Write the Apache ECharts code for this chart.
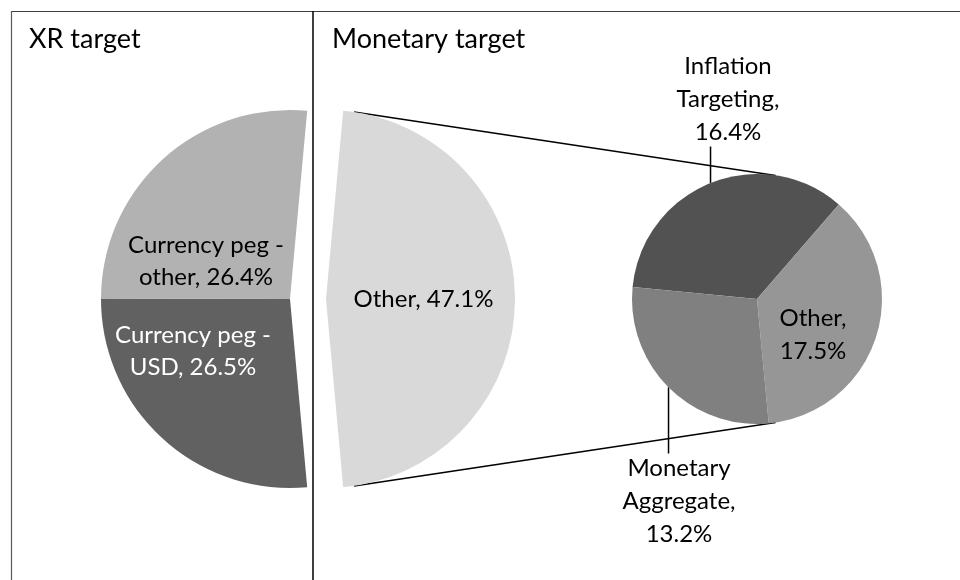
<!DOCTYPE html>
<html>
<head>
<meta charset="utf-8">
<script src="https://cdn.jsdelivr.net/npm/echarts@6/dist/echarts.min.js"></script>
<style>
html, body { margin: 0; padding: 0; background: #fff; }
#chart { width: 960px; height: 580px; }
</style>
</head>
<body>
<div id="chart"></div>
<script>
// first pie: exchange-rate targets and the share that is broken out
var mainNames = ['Other', 'Currency peg -\nUSD', 'Currency peg -\nother'];
var mainValues = [47.1, 26.5, 26.4];
// second pie: what the "Other" slice is made of
var subNames = ['Inflation\nTargeting', 'Other', 'Monetary\nAggregate'];
var subValues = [16.4, 17.5, 13.2];
var panelTitles = ['XR target', 'Monetary target'];

var mainColors = ['#d9d9d9', '#616161', '#b2b2b2'];
var subColors = ['#525252', '#969696', '#808080'];
var mainLabelColors = ['#000', '#fff', '#000'];

var FONT = 'Lato';
var cy = 299;
var main = { cx: 290, r: 189, explode: 36 };
var sub = { cx: 757, r: 125 };

// where the labels sit (centre of the text block)
var mainLabelPos = [[431, 300], [193, 351], [206, 261]];
var subLabelPos = [[728, 99], [813, 335], [679, 501]];

function sum(arr) {
    var s = 0;
    for (var i = 0; i < arr.length; i++) s += arr[i];
    return s;
}

var chart = {
    init: function() {
        var self = this;
        self.myChart = echarts.init(document.getElementById('chart'), null, {renderer: 'canvas'});
        self.myChart.setOption(self.buildOption());
    },
    seriesLines: function() {
        // common outer tangents of the exploded slice and the second pie
        var c1 = main.cx + main.explode;
        var phi = Math.asin((main.r - sub.r) / (sub.cx - c1));
        var s = Math.sin(phi), c = Math.cos(phi);
        var lines = [];
        [-1, 1].forEach(function(dir) {
            lines.push({
                type: 'line',
                silent: true,
                shape: {
                    x1: c1 + main.r * s, y1: cy + dir * main.r * c,
                    x2: sub.cx + sub.r * s, y2: cy + dir * sub.r * c
                },
                style: {stroke: '#000', lineWidth: 1.5}
            });
        });
        return lines;
    },
    buildOption: function() {
        var self = this;
        var mainTotal = sum(mainValues);
        var mainData = mainNames.map(function(n, i) {
            return {
                name: n,
                value: mainValues[i],
                selected: i === 0,
                itemStyle: {color: mainColors[i]},
                label: {color: mainLabelColors[i]}
            };
        });
        var subData = subNames.map(function(n, i) {
            return {
                name: n,
                value: subValues[i],
                itemStyle: {color: subColors[i]},
                labelLine: {show: i !== 1}
            };
        });

        var frame = [
            {type: 'line', silent: true, shape: {x1: 11, y1: 11.5, x2: 960, y2: 11.5},
                style: {stroke: '#404040', lineWidth: 1.2}},
            {type: 'line', silent: true, shape: {x1: 11.5, y1: 11, x2: 11.5, y2: 580},
                style: {stroke: '#595959', lineWidth: 1.2}},
            {type: 'line', silent: true, shape: {x1: 313, y1: 11, x2: 313, y2: 580},
                style: {stroke: '#000', lineWidth: 1.5}}
        ];

        var titleStyle = {fontFamily: FONT, fontSize: 27, fontWeight: 'normal', color: '#000'};

        return {
            animation: false,
            backgroundColor: '#fff',
            title: [
                {text: panelTitles[0], left: 29, top: 26, padding: 0, textStyle: titleStyle},
                {text: panelTitles[1], left: 332, top: 26, padding: 0, textStyle: titleStyle}
            ],
            graphic: frame.concat(self.seriesLines()),
            series: [
                {
                    type: 'pie',
                    center: [main.cx, cy],
                    radius: main.r,
                    startAngle: mainValues[0] / mainTotal * 180,
                    selectedMode: 'single',
                    selectedOffset: main.explode,
                    avoidLabelOverlap: false,
                    emphasis: {disabled: true},
                    select: {itemStyle: {borderWidth: 0}},
                    itemStyle: {borderWidth: 0},
                    label: {
                        show: true,
                        position: 'inside',
                        fontFamily: FONT,
                        fontSize: 24,
                        lineHeight: 32,
                        align: 'center',
                        formatter: function(p) {
                            return p.name + ', ' + p.value.toFixed(1) + '%';
                        }
                    },
                    labelLine: {show: false},
                    labelLayout: function(p) {
                        var q = mainLabelPos[p.dataIndex];
                        return {x: q[0], y: q[1], align: 'center', verticalAlign: 'middle'};
                    },
                    data: mainData
                },
                {
                    type: 'pie',
                    center: [sub.cx, cy],
                    radius: sub.r,
                    startAngle: 174.5,
                    avoidLabelOverlap: false,
                    emphasis: {disabled: true},
                    itemStyle: {borderWidth: 0},
                    label: {
                        show: true,
                        position: 'outside',
                        fontFamily: FONT,
                        fontSize: 24,
                        lineHeight: 33,
                        color: '#000',
                        align: 'center',
                        formatter: function(p) {
                            return p.name + ',\n' + p.value.toFixed(1) + '%';
                        }
                    },
                    labelLine: {show: true, lineStyle: {color: '#000', width: 1.5}},
                    labelLayout: function(p) {
                        var q = subLabelPos[p.dataIndex];
                        var out = {x: q[0], y: q[1], align: 'center', verticalAlign: 'middle'};
                        var pts = p.labelLinePoints;
                        if (pts && p.dataIndex !== 1) {
                            var start = pts[0];
                            var half = p.labelRect.height / 2 - 2;
                            var endY = start[1] < q[1] ? q[1] - half : q[1] + half;
                            out.labelLinePoints = [start, [start[0], endY], [start[0], endY]];
                        }
                        return out;
                    },
                    data: subData
                }
            ]
        };
    }
};

chart.init();
</script>
</body>
</html>
